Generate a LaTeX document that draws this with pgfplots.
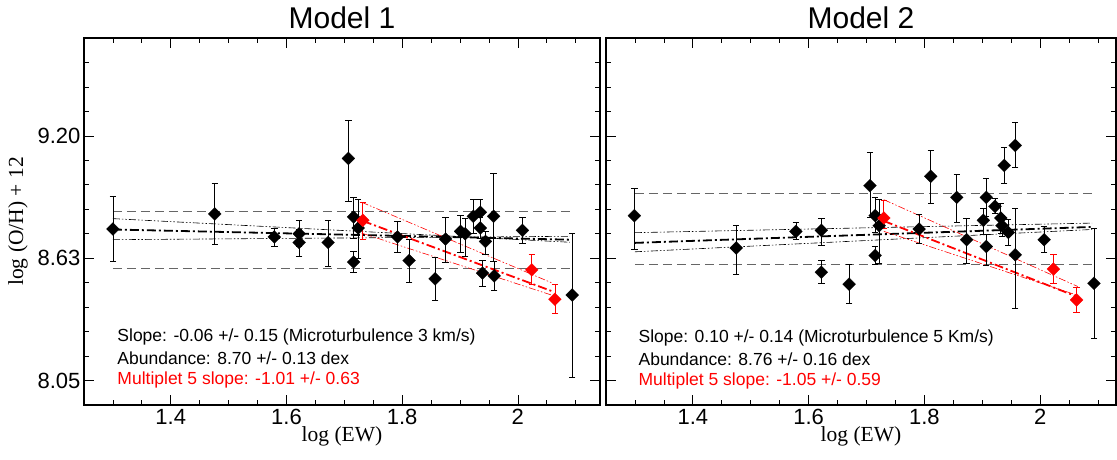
\documentclass[border=0pt]{standalone}
\usepackage{pgfplots}
\pgfplotsset{compat=1.18}
\usepackage{pgfplotstable}
\usepackage{fontspec}
\setmainfont{Liberation Sans}
\newfontfamily\seriffont{Liberation Serif}

\pgfplotstableread{
x y ep em
1.300 8.762 0.152 0.152
1.476 8.833 0.143 0.145
1.579 8.725 0.040 0.045
1.622 8.740 0.063 0.060
1.622 8.699 0.060 0.066
1.672 8.699 0.104 0.110
1.707 9.094 0.181 0.202
1.716 8.819 0.094 0.100
1.716 8.607 0.050 0.049
1.724 8.767 0.133 0.142
1.792 8.725 0.073 0.073
1.812 8.614 0.101 0.104
1.857 8.528 0.102 0.103
1.875 8.715 0.102 0.108
1.901 8.751 0.074 0.100
1.909 8.740 0.074 0.107
1.923 8.822 0.080 0.080
1.935 8.841 0.059 0.066
1.935 8.767 0.050 0.050
1.939 8.555 0.059 0.064
1.944 8.704 0.047 0.063
1.958 8.822 0.204 0.213
1.959 8.542 0.070 0.070
2.008 8.756 0.061 0.060
2.094 8.452 0.288 0.387
}\leftblack

\pgfplotstableread{
x y ep em
1.732 8.803 0.085 0.091
2.024 8.570 0.071 0.070
2.064 8.432 0.071 0.066
}\leftred

\pgfplotstableread{
x y ep em
1.299 8.825 0.127 0.160
1.475 8.673 0.106 0.126
1.578 8.751 0.042 0.036
1.622 8.756 0.058 0.071
1.622 8.559 0.058 0.051
1.670 8.503 0.091 0.090
1.706 8.966 0.155 0.150
1.715 8.825 0.084 0.080
1.722 8.778 0.122 0.178
1.715 8.638 0.042 0.044
1.791 8.762 0.068 0.069
1.811 9.010 0.123 0.128
1.856 8.911 0.107 0.118
1.873 8.712 0.102 0.112
1.907 8.911 0.087 0.089
1.902 8.803 0.058 0.068
1.907 8.680 0.055 0.089
1.922 8.869 0.036 0.031
1.932 8.814 0.071 0.071
1.934 8.778 0.050 0.050
1.945 8.746 0.060 0.062
1.938 9.061 0.083 0.086
1.957 9.155 0.107 0.105
1.957 8.641 0.220 0.251
2.007 8.712 0.063 0.060
2.093 8.507 0.260 0.259
}\rightblack

\pgfplotstableread{
x y ep em
1.730 8.814 0.083 0.047
2.023 8.574 0.067 0.066
2.063 8.429 0.060 0.060
}\rightred

\pgfplotsset{
  panel/.style={
    scale only axis, height=367pt,
    xmin=1.25, ymin=7.935, ymax=9.66,
    xtick={1.4,1.6,1.8,2}, xticklabels={1.4,1.6,1.8,2},
    minor xtick={1.25,1.3,1.35,1.45,1.5,1.55,1.65,1.7,1.75,1.85,1.9,1.95,2.05,2.1},
    ytick={8.05,8.625,9.2},
    minor ytick={8.165,8.28,8.395,8.51,8.74,8.855,8.97,9.085,9.315,9.43,9.545},
    tick align=inside, major tick length=10pt, minor tick length=5pt,
    tick style={black, line width=0.7pt},
    axis line style={black, line width=1.2pt},
    tick label style={font=\fontsize{22}{26}\selectfont},
    xticklabel style={yshift=-1pt},
    title style={font=\fontsize{30}{34}\selectfont, yshift=0pt},
    xlabel={\seriffont log (EW)},
    xlabel style={font=\fontsize{21.5}{24}\selectfont, yshift=5pt},
    clip=false,
  },
  dat/.style={only marks, mark=square*, mark size=4.6pt,
    mark options={rotate=45, solid, line width=0.1pt},
    error bars/.cd, y dir=both, y explicit,
    error bar style={line width=0.7pt, solid},
    error mark options={rotate=90, mark size=3.2pt, line width=0.7pt}},
  hdash/.style={black!60, line width=1pt, dash pattern=on 9pt off 5pt},
  thickfit/.style={line width=1.8pt, dash pattern=on 9pt off 3pt on 2pt off 3pt},
  thinfit/.style={line width=0.6pt, dash pattern=on 7pt off 2pt on 1.5pt off 2pt on 1.5pt off 2pt},
}

\begin{document}
\begin{tikzpicture}
\path[use as bounding box] (0,0) rectangle (1117pt,459pt);

\begin{axis}[panel, width=516pt, xmax=2.142,
  at={(84pt,54pt)}, anchor=south west,
  yticklabels={8.05,8.63,9.20},
  title={Model 1},
  ylabel={\seriffont log (O/H) + 12},
  ylabel style={font=\fontsize{21.5}{24}\selectfont, yshift=3pt}]
\addplot[hdash] coordinates {(1.30,8.843) (2.09,8.843)};
\addplot[hdash] coordinates {(1.30,8.578) (2.09,8.578)};
\addplot[black, thinfit] coordinates {(1.30,8.811) (2.09,8.700)};
\addplot[black, thinfit] coordinates {(1.30,8.712) (2.09,8.728)};
\addplot[black, thickfit] coordinates {(1.30,8.760) (2.09,8.712)};
\addplot[red, thinfit] coordinates {(1.730,8.888) (2.058,8.510)};
\addplot[red, thinfit] coordinates {(1.730,8.743) (2.058,8.452)};
\addplot[red, thickfit] coordinates {(1.732,8.800) (2.061,8.468)};
\addplot[black, dat] table[x=x, y=y, y error plus=ep, y error minus=em] {\leftblack};
\addplot[red, dat] table[x=x, y=y, y error plus=ep, y error minus=em] {\leftred};
\node[anchor=base west, font=\fontsize{17.5}{20}\selectfont] at (rel axis cs:0.058,0.1725) {Slope: -0.06 +/- 0.15 (Microturbulence 3 km/s)};
\node[anchor=base west, font=\fontsize{17.5}{20}\selectfont] at (rel axis cs:0.058,0.1117) {Abundance: 8.70 +/- 0.13 dex};
\node[anchor=base west, font=\fontsize{17.5}{20}\selectfont, text=red] at (rel axis cs:0.058,0.0564) {Multiplet 5 slope: -1.01 +/- 0.63};
\end{axis}

\begin{axis}[panel, width=510pt, xmax=2.1311,
  at={(606pt,54pt)}, anchor=south west,
  yticklabels={},
  title={Model 2}]
\addplot[hdash] coordinates {(1.30,8.929) (2.09,8.929)};
\addplot[hdash] coordinates {(1.30,8.597) (2.09,8.597)};
\addplot[black, thinfit] coordinates {(1.30,8.745) (2.09,8.790)};
\addplot[black, thinfit] coordinates {(1.30,8.655) (2.09,8.760)};
\addplot[black, thickfit] coordinates {(1.30,8.697) (2.09,8.772)};
\addplot[red, thinfit] coordinates {(1.730,8.900) (2.065,8.492)};
\addplot[red, thinfit] coordinates {(1.730,8.751) (2.063,8.452)};
\addplot[red, thickfit] coordinates {(1.730,8.800) (2.063,8.445)};
\addplot[black, dat] table[x=x, y=y, y error plus=ep, y error minus=em] {\rightblack};
\addplot[red, dat] table[x=x, y=y, y error plus=ep, y error minus=em] {\rightred};
\node[anchor=base west, font=\fontsize{17.5}{20}\selectfont] at (rel axis cs:0.057,0.170) {Slope: 0.10 +/- 0.14 (Microturbulence 5 Km/s)};
\node[anchor=base west, font=\fontsize{17.5}{20}\selectfont] at (rel axis cs:0.057,0.109) {Abundance: 8.76 +/- 0.16 dex};
\node[anchor=base west, font=\fontsize{17.5}{20}\selectfont, text=red] at (rel axis cs:0.057,0.054) {Multiplet 5 slope: -1.05 +/- 0.59};
\end{axis}
\end{tikzpicture}
\end{document}
